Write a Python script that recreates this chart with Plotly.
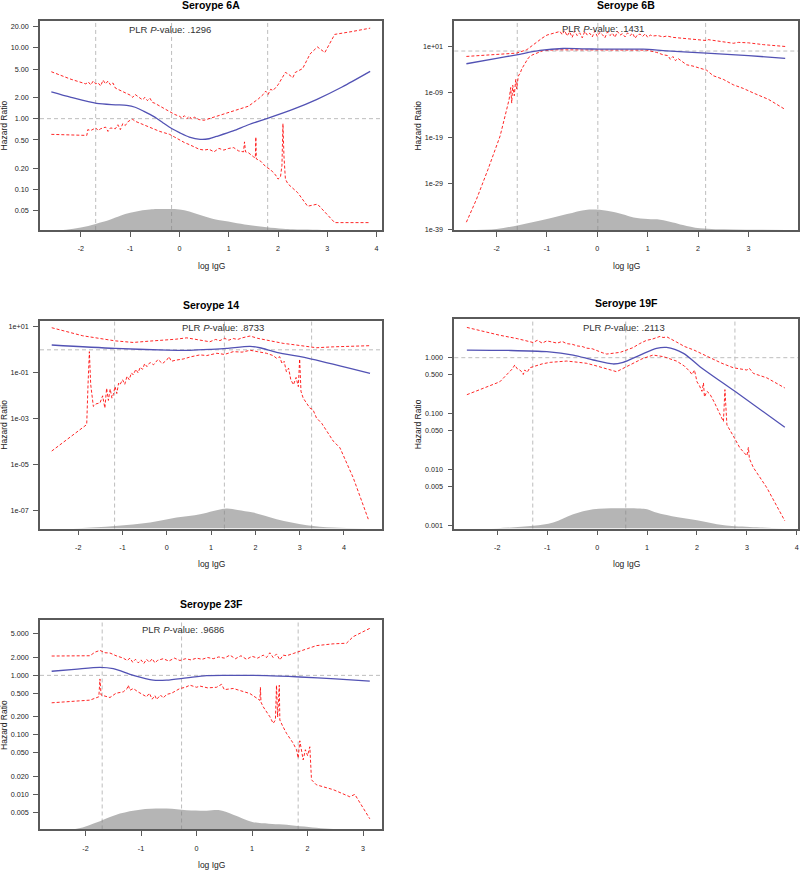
import plotly.graph_objects as go

# ---------------- Serotype 6A (hazard ratio values) ----------------
x6a_fit = [-2.6, -2.2, -1.68, -1.3, -1.07, -0.9, -0.73, -0.5, -0.33, -0.15, 0.01, 0.2, 0.42, 0.6, 0.75, 1.09, 1.4, 1.77, 2.3, 2.78, 3.3, 3.87]
hr6a_fit = [2.39, 2.0, 1.64, 1.57, 1.54, 1.45, 1.28, 1.05, 0.87, 0.72, 0.63, 0.55, 0.51, 0.52, 0.56, 0.67, 0.82, 1.0, 1.35, 1.86, 2.8, 4.65]
x6a_up = [-2.6, -2.2, -1.9, -1.85, -1.8, -1.75, -1.7, -1.65, -1.6, -1.55, -1.5, -1.45, -1.4, -1.35, -1.3, -1.2, -1.1, -1.0, -0.95, -0.9, -0.8, -0.75, -0.7, -0.65, -0.6, -0.55, -0.5, -0.4, -0.3, -0.2, -0.1, 0.0, 0.05, 0.1, 0.15, 0.2, 0.25, 0.3, 0.4, 0.5, 0.6, 0.8, 1.0, 1.2, 1.4, 1.6, 1.7, 1.75, 1.8, 1.85, 1.9, 2.0, 2.1, 2.15, 2.2, 2.3, 2.35, 2.5, 2.65, 2.8, 2.95, 3.15, 3.5, 3.87]
hr6a_up = [4.6, 3.6, 3.1, 3.3, 3.0, 3.4, 3.1, 3.2, 2.9, 3.5, 3.1, 3.4, 3.0, 3.2, 2.7, 2.5, 2.3, 2.15, 2.0, 2.2, 1.95, 1.85, 2.0, 1.8, 1.95, 1.7, 1.65, 1.5, 1.38, 1.25, 1.15, 1.08, 1.02, 1.1, 1.0, 1.08, 0.98, 1.05, 0.97, 0.95, 1.0, 1.1, 1.2, 1.35, 1.5, 1.9, 2.2, 2.45, 2.2, 2.6, 2.5, 3.0, 4.0, 4.5, 4.3, 3.8, 4.5, 5.1, 8.2, 10.3, 8.6, 15.5, 17.0, 19.0]
x6a_lo = [-2.6, -1.88, -1.86, -1.8, -1.7, -1.65, -1.6, -1.5, -1.45, -1.4, -1.3, -1.25, -1.2, -1.15, -1.1, -1.05, -1.0, -0.95, -0.9, -0.8, -0.7, -0.6, -0.5, -0.4, -0.3, -0.2, -0.1, 0.0, 0.1, 0.2, 0.3, 0.4, 0.5, 0.6, 0.7, 0.8, 0.9, 1.0, 1.1, 1.2, 1.3, 1.32, 1.34, 1.4, 1.5, 1.54, 1.55, 1.56, 1.65, 1.75, 1.85, 1.95, 2.0, 2.05, 2.08, 2.1, 2.12, 2.15, 2.2, 2.4, 2.6, 2.8, 2.95, 3.15, 3.87]
hr6a_lo = [0.6, 0.58, 0.70, 0.68, 0.74, 0.68, 0.72, 0.76, 0.66, 0.74, 0.72, 0.82, 0.7, 0.85, 0.8, 0.9, 0.95, 0.98, 0.92, 0.86, 0.8, 0.74, 0.7, 0.66, 0.63, 0.6, 0.55, 0.5, 0.46, 0.43, 0.4, 0.37, 0.36, 0.37, 0.34, 0.38, 0.36, 0.38, 0.39, 0.35, 0.34, 0.47, 0.34, 0.33, 0.29, 0.28, 0.55, 0.27, 0.25, 0.21, 0.19, 0.16, 0.14, 0.15, 0.22, 0.85, 0.3, 0.14, 0.12, 0.09, 0.058, 0.062, 0.048, 0.034, 0.034]
x6a_dens = [-2.6, -2.3, -2.0, -1.7, -1.4, -1.2, -1.0, -0.8, -0.6, -0.46, -0.2, 0.0, 0.2, 0.42, 0.69, 1.09, 1.4, 1.77, 2.1, 2.3, 2.7, 3.1, 3.87]
dens6a = [0, 0.001, 0.012, 0.029, 0.05, 0.068, 0.082, 0.092, 0.098, 0.1, 0.1, 0.098, 0.088, 0.071, 0.052, 0.036, 0.024, 0.013, 0.006, 0.003, 0.001, 0, 0]
ref6a = [-1.70, -0.16, 1.79]

# ---------------- Serotype 6B (log10 hazard ratio) ----------------
x6b_fit = [-2.6, -2.0, -1.6, -1.14, -0.68, -0.3, 0.05, 0.5, 0.91, 1.38, 2.17, 3.0, 3.73]
lhr6b_fit = [-2.78, -1.6, -0.82, 0.13, 0.56, 0.48, 0.42, 0.42, 0.42, 0.05, -0.45, -1.0, -1.6]
x6b_up = [-2.6, -2.0, -1.6, -1.4, -1.3, -1.2, -1.1, -1.0, -0.9, -0.8, -0.74, -0.7, -0.65, -0.6, -0.55, -0.5, -0.45, -0.4, -0.35, -0.3, -0.25, -0.2, -0.15, -0.1, -0.05, 0.0, 0.05, 0.1, 0.15, 0.2, 0.25, 0.3, 0.35, 0.4, 0.45, 0.5, 0.55, 0.6, 0.65, 0.7, 0.75, 0.8, 0.85, 0.9, 0.95, 1.0, 1.05, 1.1, 1.2, 1.3, 1.38, 1.5, 1.6, 1.7, 1.9, 2.17, 2.2, 2.5, 2.7, 2.8, 3.0, 3.3, 3.73]
lhr6b_up = [-1.18, -0.8, -0.45, 0.3, 1.2, 2.1, 2.8, 3.5, 3.8, 4.1, 4.3, 3.6, 4.5, 3.3, 4.2, 3.0, 4.4, 3.4, 4.0, 2.9, 4.3, 3.5, 3.9, 3.1, 4.4, 3.2, 4.1, 3.6, 2.9, 4.2, 3.4, 3.9, 3.0, 4.3, 3.5, 3.8, 3.1, 4.0, 3.4, 3.9, 2.8, 3.6, 3.7, 3.2, 3.8, 3.0, 3.5, 3.3, 3.4, 3.1, 3.3, 3.0, 2.9, 2.7, 2.5, 2.3, 2.5, 2.0, 1.7, 1.9, 1.8, 1.4, 1.0]
x6b_lo = [-2.6, -2.4, -2.17, -1.93, -1.8, -1.75, -1.72, -1.7, -1.68, -1.65, -1.62, -1.6, -1.57, -1.53, -1.5, -1.47, -1.42, -1.37, -1.3, -1.2, -1.07, -0.8, -0.4, 0.0, 0.4, 0.8, 0.98, 1.18, 1.3, 1.4, 1.45, 1.5, 1.55, 1.6, 1.7, 1.77, 1.9, 2.05, 2.17, 2.3, 2.5, 2.7, 2.9, 3.1, 3.4, 3.73]
lhr6b_lo = [-37.5, -32.5, -25.9, -18.6, -12.8, -10.5, -8.0, -11.4, -7.5, -9.8, -6.2, -8.3, -5.5, -4.8, -3.9, -3.4, -2.6, -1.5, -0.9, -0.4, 0.13, 0.27, 0.27, 0.27, 0.27, 0.27, 0.2, -0.3, -0.8, -1.0, -1.8, -1.2, -2.1, -1.6, -2.4, -3.0, -3.3, -3.8, -4.2, -5.4, -6.2, -7.4, -8.2, -9.2, -10.6, -12.8]
x6b_dens = [-2.6, -2.0, -1.54, -1.0, -0.6, -0.2, 0.19, 0.5, 0.72, 1.0, 1.25, 1.5, 1.7, 2.04, 2.7, 3.73]
dens6b = [0, 0.005, 0.024, 0.052, 0.076, 0.097, 0.092, 0.075, 0.06, 0.052, 0.049, 0.036, 0.024, 0.008, 0.002, 0]
ref6b = [-1.59, 0.01, 2.15]

# ---------------- Serotype 14 (log10 hazard ratio) ----------------
x14_fit = [-2.6, -1.17, 0.0, 0.52, 1.0, 1.35, 1.88, 2.1, 2.48, 3.27, 4.59]
lhr14_fit = [0.21, 0.063, -0.01, -0.02, 0.02, 0.06, 0.15, 0.09, -0.11, -0.40, -1.02]
x14_up = [-2.6, -1.9, -1.17, -0.76, -0.38, 0.0, 0.2, 0.45, 0.7, 0.97, 1.1, 1.2, 1.3, 1.4, 1.5, 1.6, 1.7, 1.88, 2.05, 2.25, 2.4, 2.63, 2.8, 3.0, 3.2, 3.38, 3.76, 4.59]
lhr14_up = [0.96, 0.61, 0.39, 0.32, 0.38, 0.42, 0.46, 0.52, 0.45, 0.35, 0.45, 0.4, 0.5, 0.42, 0.49, 0.45, 0.52, 0.60, 0.5, 0.42, 0.36, 0.28, 0.24, 0.18, 0.15, 0.09, 0.13, 0.18]
x14_lo = [-2.6, -1.81, -1.78, -1.75, -1.72, -1.66, -1.6, -1.51, -1.45, -1.4, -1.36, -1.32, -1.28, -1.24, -1.21, -1.17, -1.13, -1.09, -1.06, -1.0, -0.95, -0.9, -0.85, -0.8, -0.76, -0.7, -0.65, -0.6, -0.55, -0.5, -0.45, -0.38, -0.3, -0.2, -0.1, 0.0, 0.05, 0.1, 0.2, 0.37, 0.55, 0.75, 0.9, 1.13, 1.3, 1.5, 1.7, 1.88, 2.05, 2.25, 2.4, 2.48, 2.55, 2.6, 2.65, 2.7, 2.75, 2.8, 2.86, 2.92, 2.97, 3.0, 3.03, 3.08, 3.15, 3.23, 3.3, 3.38, 3.5, 3.76, 3.91, 4.21, 4.55]
lhr14_lo = [-4.40, -3.25, -1.5, -0.08, -1.5, -2.46, -2.35, -2.31, -2.0, -2.53, -1.67, -2.2, -1.7, -2.1, -1.95, -1.6, -1.9, -1.45, -1.52, -1.3, -1.5, -1.15, -1.3, -1.0, -1.09, -0.85, -1.0, -0.75, -0.85, -0.6, -0.73, -0.55, -0.65, -0.42, -0.6, -0.44, -0.3, -0.5, -0.45, -0.40, -0.3, -0.22, -0.25, -0.15, -0.2, -0.08, -0.1, -0.02, -0.08, -0.15, -0.25, -0.37, -0.3, -0.6, -0.5, -0.95, -0.8, -1.3, -1.52, -1.2, -1.6, -0.40, -1.8, -2.1, -2.3, -2.53, -2.6, -2.96, -3.2, -3.97, -4.26, -5.56, -7.36]
x14_dens = [-2.6, -2.0, -1.17, -0.38, 0.22, 0.75, 1.05, 1.35, 1.6, 1.95, 2.48, 3.16, 3.76, 4.5]
dens14 = [0, 0.002, 0.013, 0.029, 0.053, 0.069, 0.085, 0.097, 0.09, 0.077, 0.045, 0.016, 0.005, 0]
ref14 = [-1.18, 1.30, 3.27]

# ---------------- Serotype 19F (log10 hazard ratio) ----------------
x19f_fit = [-2.61, -1.8, -1.01, -0.48, -0.08, 0.32, 0.52, 0.86, 1.19, 1.39, 1.73, 2.06, 2.76, 3.76]
lhr19f_fit = [0.136, 0.13, 0.107, 0.047, -0.041, -0.112, -0.083, 0.047, 0.166, 0.183, 0.077, -0.16, -0.60, -1.24]
x19f_up = [-2.61, -1.95, -1.6, -1.4, -1.28, -1.2, -1.1, -1.01, -0.9, -0.8, -0.7, -0.61, -0.5, -0.4, -0.3, -0.21, -0.1, 0.0, 0.1, 0.19, 0.3, 0.46, 0.6, 0.72, 0.85, 0.99, 1.1, 1.2, 1.26, 1.32, 1.4, 1.59, 1.75, 1.93, 2.1, 2.26, 2.5, 2.73, 3.0, 3.05, 3.13, 3.4, 3.76]
lhr19f_up = [0.54, 0.40, 0.34, 0.3, 0.27, 0.31, 0.26, 0.30, 0.28, 0.26, 0.29, 0.25, 0.24, 0.21, 0.2, 0.17, 0.16, 0.12, 0.09, 0.065, 0.08, 0.095, 0.14, 0.18, 0.25, 0.31, 0.33, 0.37, 0.38, 0.36, 0.37, 0.28, 0.2, 0.14, 0.07, -0.01, -0.1, -0.18, -0.22, -0.19, -0.28, -0.36, -0.54]
x19f_lo = [-2.61, -1.95, -1.7, -1.65, -1.6, -1.55, -1.5, -1.48, -1.45, -1.4, -1.35, -1.28, -1.1, -0.94, -0.61, -0.4, -0.21, 0.0, 0.19, 0.39, 0.5, 0.72, 0.9, 1.12, 1.33, 1.59, 1.75, 1.86, 1.9, 1.95, 2.0, 2.05, 2.1, 2.13, 2.15, 2.2, 2.26, 2.35, 2.4, 2.46, 2.53, 2.56, 2.6, 2.73, 2.86, 3.0, 3.03, 3.05, 3.13, 3.4, 3.76]
lhr19f_lo = [-0.66, -0.43, -0.2, -0.13, -0.2, -0.22, -0.26, -0.3, -0.22, -0.26, -0.18, -0.16, -0.11, -0.083, -0.06, -0.08, -0.1, -0.15, -0.2, -0.25, -0.2, -0.1, -0.02, 0.047, 0.018, -0.06, -0.15, -0.25, -0.3, -0.22, -0.43, -0.5, -0.6, -0.45, -0.7, -0.6, -0.65, -0.8, -0.9, -1.02, -1.14, -0.57, -1.2, -1.40, -1.61, -1.75, -1.6, -1.8, -1.96, -2.32, -2.91]
x19f_dens = [-2.6, -2.0, -1.28, -0.88, -0.48, -0.08, 0.39, 0.86, 1.0, 1.2, 1.5, 2.0, 2.4, 2.76, 3.06, 3.5, 3.76]
dens19f = [0, 0.002, 0.013, 0.029, 0.068, 0.092, 0.097, 0.096, 0.092, 0.075, 0.059, 0.04, 0.021, 0.011, 0.008, 0.003, 0]
ref19f = [-1.29, 0.573, 2.76]

# ---------------- Serotype 23F (log10 hazard ratio) ----------------
x23f_fit = [-2.61, -2.2, -1.74, -1.5, -1.14, -0.78, -0.54, -0.18, 0.18, 0.66, 1.26, 1.86, 2.5, 3.12]
lhr23f_fit = [0.069, 0.1, 0.136, 0.113, 0.0, -0.081, -0.081, -0.043, -0.004, 0.0, -0.004, -0.027, -0.06, -0.098]
x23f_up = [-2.61, -1.92, -1.83, -1.74, -1.65, -1.56, -1.45, -1.32, -1.25, -1.2, -1.15, -1.1, -1.05, -1.0, -0.95, -0.9, -0.85, -0.8, -0.75, -0.7, -0.6, -0.5, -0.4, -0.3, -0.2, -0.1, 0.0, 0.1, 0.2, 0.3, 0.4, 0.5, 0.6, 0.7, 0.8, 0.9, 1.0, 1.1, 1.2, 1.26, 1.32, 1.38, 1.44, 1.5, 1.56, 1.62, 1.75, 1.86, 2.0, 2.16, 2.46, 2.7, 2.82, 3.12]
lhr23f_up = [0.325, 0.33, 0.39, 0.42, 0.38, 0.376, 0.33, 0.29, 0.25, 0.29, 0.22, 0.27, 0.21, 0.26, 0.2, 0.27, 0.22, 0.28, 0.21, 0.253, 0.28, 0.24, 0.29, 0.25, 0.28, 0.26, 0.29, 0.27, 0.3, 0.28, 0.31, 0.29, 0.34, 0.28, 0.33, 0.27, 0.32, 0.29, 0.34, 0.3, 0.38, 0.3, 0.36, 0.26, 0.34, 0.33, 0.37, 0.41, 0.45, 0.50, 0.53, 0.54, 0.65, 0.79]
x23f_lo = [-2.61, -1.92, -1.76, -1.74, -1.72, -1.68, -1.56, -1.45, -1.32, -1.25, -1.23, -1.2, -1.14, -1.05, -0.96, -0.9, -0.85, -0.8, -0.75, -0.72, -0.65, -0.6, -0.54, -0.45, -0.3, -0.2, -0.12, 0.0, 0.06, 0.2, 0.36, 0.45, 0.5, 0.66, 0.8, 0.96, 1.08, 1.14, 1.15, 1.16, 1.2, 1.32, 1.38, 1.42, 1.44, 1.46, 1.49, 1.5, 1.55, 1.62, 1.74, 1.8, 1.83, 1.86, 1.92, 1.96, 2.0, 2.04, 2.07, 2.16, 2.46, 2.76, 2.85, 3.12]
lhr23f_lo = [-0.461, -0.416, -0.36, -0.06, -0.33, -0.34, -0.372, -0.3, -0.277, -0.22, -0.165, -0.25, -0.221, -0.28, -0.33, -0.36, -0.3, -0.4, -0.34, -0.405, -0.33, -0.38, -0.32, -0.3, -0.221, -0.2, -0.165, -0.2, -0.18, -0.21, -0.2, -0.15, -0.24, -0.22, -0.26, -0.305, -0.38, -0.42, -0.2, -0.45, -0.528, -0.695, -0.807, -0.75, -0.166, -0.7, -0.166, -0.75, -0.85, -0.974, -1.14, -1.25, -1.39, -1.1, -1.42, -1.25, -1.35, -1.2, -1.755, -1.84, -1.92, -2.04, -2.0, -2.41]
x23f_dens = [-2.61, -2.16, -1.74, -1.38, -1.02, -0.54, -0.18, 0.18, 0.42, 0.66, 1.02, 1.3, 1.56, 2.16, 2.46, 3.12]
dens23f = [0, 0.003, 0.04, 0.076, 0.095, 0.1, 0.092, 0.09, 0.092, 0.071, 0.035, 0.028, 0.024, 0.008, 0.002, 0]
ref23f = [-1.70, -0.27, 1.83]

# ---------------- labels ----------------
panel_titles = ["Seroype 6A", "Seroype 6B", "Seroype 14", "Seroype 19F", "Seroype 23F"]
plr_values = [".1296", ".1431", ".8733", ".2113", ".9686"]
ytick_vals = [
    [0.05, 0.1, 0.2, 0.5, 1, 2, 5, 10, 20],
    [1e-39, 1e-29, 1e-19, 1e-9, 1e1],
    [1e-7, 1e-5, 1e-3, 1e-1, 1e1],
    [0.001, 0.005, 0.01, 0.05, 0.1, 0.5, 1],
    [0.005, 0.01, 0.02, 0.05, 0.1, 0.2, 0.5, 1, 2, 5],
]
ytick_text = [
    ["0.05", "0.10", "0.20", "0.50", "1.00", "2.00", "5.00", "10.00", "20.00"],
    ["1e-39", "1e-29", "1e-19", "1e-09", "1e+01"],
    ["1e-07", "1e-05", "1e-03", "1e-01", "1e+01"],
    ["0.001", "0.005", "0.010", "0.050", "0.100", "0.500", "1.000"],
    ["0.005", "0.010", "0.020", "0.050", "0.100", "0.200", "0.500", "1.000", "2.000", "5.000"],
]
xtick_vals = [[-2, -1, 0, 1, 2, 3, 4], [-2, -1, 0, 1, 2, 3], [-2, -1, 0, 1, 2, 3, 4],
              [-2, -1, 0, 1, 2, 3, 4], [-2, -1, 0, 1, 2, 3]]


def pw(v):
    return [10 ** a for a in v]


series = [
    (x6a_fit, hr6a_fit, x6a_up, hr6a_up, x6a_lo, hr6a_lo, x6a_dens, dens6a, ref6a),
    (x6b_fit, pw(lhr6b_fit), x6b_up, pw(lhr6b_up), x6b_lo, pw(lhr6b_lo), x6b_dens, dens6b, ref6b),
    (x14_fit, pw(lhr14_fit), x14_up, pw(lhr14_up), x14_lo, pw(lhr14_lo), x14_dens, dens14, ref14),
    (x19f_fit, pw(lhr19f_fit), x19f_up, pw(lhr19f_up), x19f_lo, pw(lhr19f_lo), x19f_dens, dens19f, ref19f),
    (x23f_fit, pw(lhr23f_fit), x23f_up, pw(lhr23f_up), x23f_lo, pw(lhr23f_lo), x23f_dens, dens23f, ref23f),
]

# layout geometry (pixels)
W, H = 800, 875
boxes = [(40, 382, 21, 231), (454.3, 798.3, 20.7, 231), (40, 382, 322.3, 531),
         (454.3, 798.3, 320.7, 531), (40, 382, 623.3, 833.3)]
xranges = [[-2.83, 4.11], [-2.84, 3.99], [-2.865, 4.86], [-2.862, 4.03], [-2.82, 3.34]]
yranges = [[-1.572, 1.381], [-39.2, 6.67], [-7.77, 1.26], [-3.048, 0.686], [-2.590, 0.923]]
plr_pos = [(170, 29.3), (603, 28.3), (223.3, 329.3), (624, 329), (182.7, 632.3)]


def px(x):
    return x / W


def py(y):
    return 1 - y / H


FONT = "Liberation Sans, Arial, Helvetica, sans-serif"
AX = "#5a5a5a"
RED = "rgba(255,0,0,0.85)"
BLUE = "#5252B4"
REFC = "#BDBDBD"

fig = go.Figure()
layout = dict(width=W, height=H, margin=dict(l=0, r=0, t=0, b=0), autosize=False,
              paper_bgcolor="white", plot_bgcolor="white", showlegend=False,
              font=dict(family=FONT, color="#222"))
shapes = []
annotations = []

for i, (xf, yf, xu, yu, xl, yl, xd, yd, refs) in enumerate(series):
    n = i + 1
    xa = "x" if n == 1 else f"x{n}"
    ya = "y" if n == 1 else f"y{n}"
    yd_name = f"y{n + 5}"
    x0, x1, y0, y1 = boxes[i]
    layout[f"xaxis{'' if n == 1 else n}"] = dict(
        domain=[px(x0), px(x1)], anchor=ya, range=xranges[i], tickvals=xtick_vals[i],
        ticktext=[str(v) for v in xtick_vals[i]],
        showgrid=False, zeroline=False, showline=True, mirror=True, linecolor=AX, linewidth=1.5,
        ticks="outside", ticklen=5, tickwidth=1, tickcolor=AX,
        tickfont=dict(size=7.2, family=FONT, color="#222"), ticklabelstandoff=6)
    layout[f"yaxis{'' if n == 1 else n}"] = dict(
        domain=[py(y1), py(y0)], anchor=xa, type="log", range=yranges[i],
        tickvals=ytick_vals[i], ticktext=ytick_text[i],
        showgrid=False, zeroline=False, showline=True, mirror=True, linecolor=AX, linewidth=1.5,
        ticks="outside", ticklen=5, tickwidth=1, tickcolor=AX,
        tickfont=dict(size=7.2, family=FONT, color="#222"), ticklabelstandoff=3)
    layout[f"yaxis{n + 5}"] = dict(overlaying=ya, anchor=xa, range=[0, 1], visible=False,
                                   showgrid=False, zeroline=False)

    # reference lines
    for r in refs:
        shapes.append(dict(type="line", xref=xa, yref=f"{ya} domain", x0=r, x1=r, y0=0, y1=1,
                           line=dict(color=REFC, width=1, dash="4px,3px"), layer="below"))
    shapes.append(dict(type="line", xref=f"{xa} domain", yref=ya, x0=0, x1=1, y0=1, y1=1,
                       line=dict(color=REFC, width=1, dash="4px,3px"), layer="below"))

    fig.add_trace(go.Scatter(x=xu, y=yu, mode="lines", xaxis=xa, yaxis=ya,
                             line=dict(color=RED, width=1, dash="3px,2px")))
    fig.add_trace(go.Scatter(x=xl, y=yl, mode="lines", xaxis=xa, yaxis=ya,
                             line=dict(color=RED, width=1, dash="3px,2px")))
    fig.add_trace(go.Scatter(x=xf, y=yf, mode="lines", xaxis=xa, yaxis=ya,
                             line=dict(color=BLUE, width=1.3, shape="spline", smoothing=0.8)))
    fig.add_trace(go.Scatter(x=xd, y=yd, mode="lines", xaxis=xa, yaxis=yd_name,
                             fill="tozeroy", fillcolor="rgba(128,128,128,0.58)",
                             line=dict(width=0, color="rgba(0,0,0,0)", shape="spline")))

    cx = (x0 + x1) / 2
    cy = (y0 + y1) / 2
    title_y = y0 - 16 if i != 4 else y0 - 16.6
    annotations.append(dict(text=f"<b>{panel_titles[i]}</b>", xref="paper", yref="paper",
                            x=px(cx), y=py(title_y), xanchor="center", yanchor="middle",
                            showarrow=False, font=dict(size=10.5, family=FONT, color="black")))
    annotations.append(dict(text="log IgG", xref="paper", yref="paper",
                            x=px(cx), y=py(min(y1 + 36, 869)), xanchor="center", yanchor="middle",
                            showarrow=False, font=dict(size=8.5, family=FONT, color="#222")))
    annotations.append(dict(text="Hazard Ratio", xref="paper", yref="paper", textangle=-90,
                            x=px(x0 - 36), y=py(cy), xanchor="center", yanchor="middle",
                            showarrow=False, font=dict(size=8.5, family=FONT, color="#222")))
    annotations.append(dict(text=f"PLR <i>P</i>-value: {plr_values[i]}", xref="paper", yref="paper",
                            x=px(plr_pos[i][0]), y=py(plr_pos[i][1]), xanchor="center", yanchor="middle",
                            showarrow=False, font=dict(size=9.5, family=FONT, color="#333")))

layout["shapes"] = shapes
layout["annotations"] = annotations
fig.update_layout(**layout)
fig.write_html("out.html", config={"displayModeBar": False},
               post_script="document.body.style.margin='0px';")
